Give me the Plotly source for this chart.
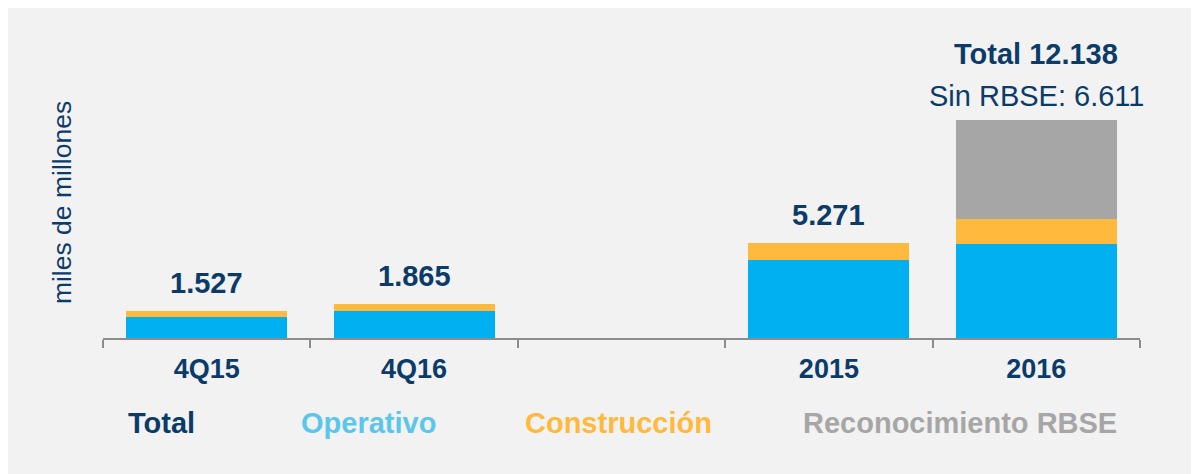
import plotly.graph_objects as go

categories = ['4Q15', '4Q16', ' ', '2015', '2016']
operativo = [1167, 1500, None, 4333, 5240]
construccion = [360, 365, None, 938, 1371]
rbse = [None, None, None, None, 5527]
sin_rbse_2016 = 6611

navy = '#0b3b69'
blue = '#00b0f0'
yellow = '#ffb93c'
grey = '#a6a6a6'
font = 'Arial, Liberation Sans, sans-serif'


def fmt(v):
    return f'{v:,}'.replace(',', '.')


totals = [sum(x or 0 for x in vals) for vals in zip(operativo, construccion, rbse)]

fig = go.Figure()
fig.add_trace(go.Bar(x=categories, y=operativo, name='Operativo', marker_color=blue, marker_line_width=0))
fig.add_trace(go.Bar(x=categories, y=construccion, name='Construcción', marker_color=yellow, marker_line_width=0))
fig.add_trace(go.Bar(x=categories, y=rbse, name='Reconocimiento RBSE', marker_color=grey, marker_line_width=0))

# total labels above bars (x as category index, '2015' would be read as a number)
for i, tot in enumerate(totals[:4]):
    if tot:
        fig.add_annotation(x=i, y=tot, text='<b>' + fmt(tot) + '</b>', showarrow=False,
                           yanchor='middle', yshift=28, font=dict(size=29, color=navy, family=font))
fig.add_annotation(x=4, y=totals[4], text='<b>Total ' + fmt(totals[4]) + '</b>', showarrow=False,
                   yanchor='middle', yshift=66, font=dict(size=29, color=navy, family=font))
fig.add_annotation(x=4, y=totals[4], text='Sin RBSE: ' + fmt(sin_rbse_2016), showarrow=False,
                   yanchor='middle', yshift=24, font=dict(size=29, color=navy, family=font))

# text legend below the axis
legend_items = [('Total', navy, 161), ('Operativo', '#5bc6ec', 368),
                ('Construcción', '#ffb93c', 618), ('Reconocimiento RBSE', grey, 960)]
for label, col, px in legend_items:
    fig.add_annotation(x=(px - 103) / 1037, y=-0.357, xref='paper', yref='paper', text='<b>' + label + '</b>',
                       showarrow=False, xanchor='center', yanchor='middle',
                       font=dict(size=29, color=col, family=font))

fig.add_annotation(x=-0.0395, y=0.567, xref='paper', yref='paper', text='miles de millones', textangle=-90,
                   showarrow=False, xanchor='center', yanchor='middle', font=dict(size=26.5, color=navy, family=font))

# light grey panel
fig.add_shape(type='rect', xref='paper', yref='paper', x0=-0.2, x1=1.2, y0=-0.7, y1=1.5,
              fillcolor='#f2f2f2', line_width=0, layer='below')

fig.update_layout(
    width=1191, height=466,
    barmode='stack', bargap=0.224,
    showlegend=False,
    paper_bgcolor='#f2f2f2', plot_bgcolor='#f2f2f2',
    margin=dict(l=95, r=59, t=92, b=136),
    font=dict(family=font, color=navy),
)
fig.update_xaxes(type='category', range=[-0.5, 4.5], showline=True, linecolor='#8c8c8c', linewidth=2,
                 ticks='outside', tickson='boundaries', ticklen=8, tickcolor='#8c8c8c', tickwidth=2,
                 tickfont=dict(size=27, color=navy, family=font), ticklabelstandoff=6,
                 tickvals=categories, ticktext=['<b>' + c + '</b>' for c in categories],
                 showgrid=False, zeroline=False)
fig.update_yaxes(range=[0, 13222], visible=False)

fig.write_html('out.html')
